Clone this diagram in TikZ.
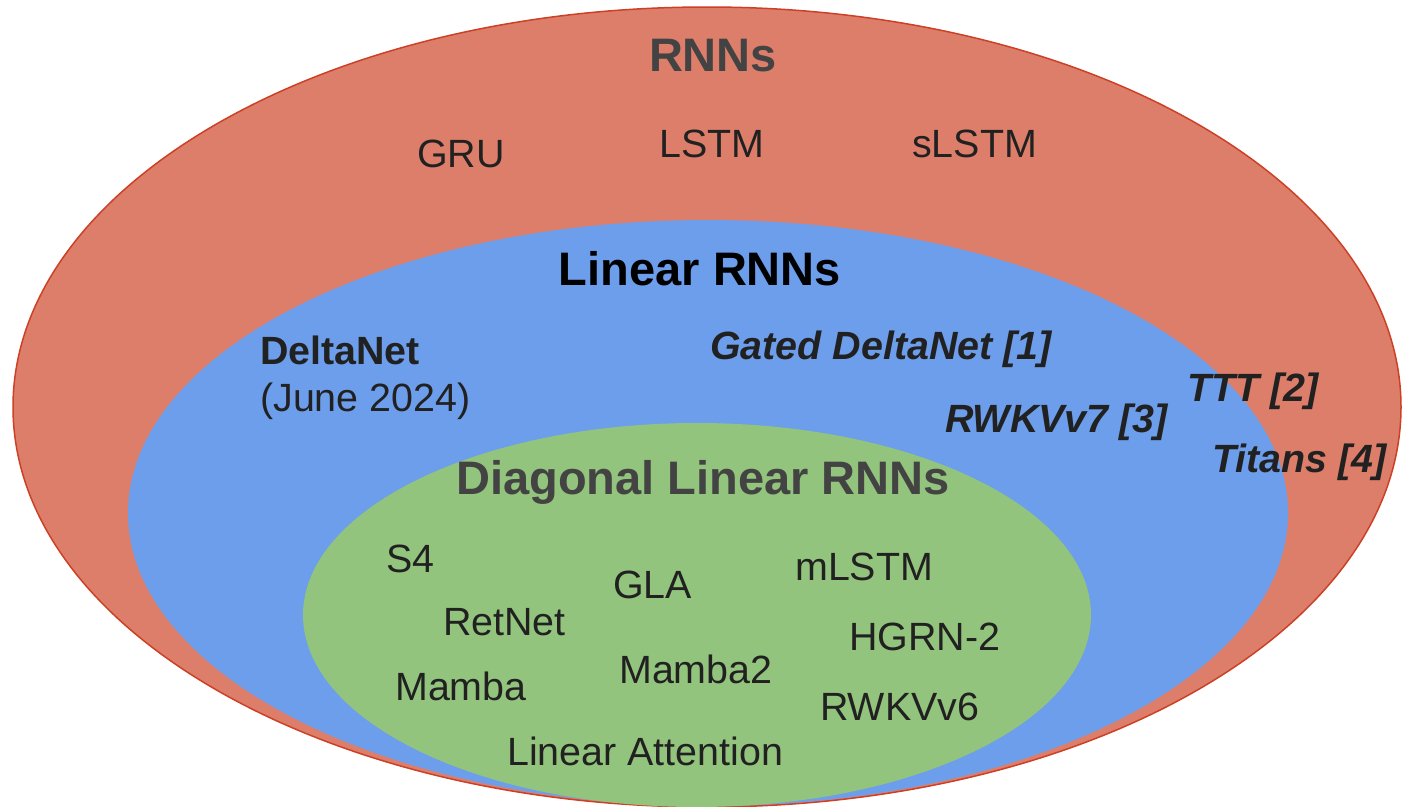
\documentclass[tikz,border=0pt]{standalone}
\usepackage{fontspec}
\setmainfont{Liberation Sans}
\definecolor{rnnred}{HTML}{DD7E6B}
\definecolor{rnnborder}{HTML}{CC4125}
\definecolor{linblue}{HTML}{6D9EEB}
\definecolor{diaggreen}{HTML}{93C47D}
\definecolor{headgrey}{HTML}{434343}
\definecolor{txt}{HTML}{212121}
\tikzset{
  lbl/.style={inner sep=0pt, anchor=base west, text=txt, font=\fontsize{39.4}{47}\selectfont},
  blbl/.style={lbl, font=\fontsize{39.4}{47}\selectfont\bfseries},
  bilbl/.style={lbl, font=\fontsize{39.4}{47}\selectfont\bfseries\itshape},
  head/.style={inner sep=0pt, anchor=base, font=\fontsize{47}{56}\selectfont\bfseries},
}
\begin{document}
\begin{tikzpicture}[x=1pt,y=-1pt]
\useasboundingbox (0,0) rectangle (1403,806);
\clip (0,0) rectangle (1403,806);
% sets
\filldraw[fill=rnnred, draw=rnnborder, line width=1.5pt] (707,407) ellipse [x radius=694pt, y radius=400pt];
\fill[linblue] (708,513) ellipse [x radius=580pt, y radius=293pt];
\fill[diaggreen] (697,615) ellipse [x radius=394pt, y radius=192pt];
% headers
\node[head, text=headgrey] (hrnn) at (713,71) {RNNs};
\node[head, text=black] (hlin) at (700,285) {Linear RNNs};
\node[head, text=headgrey] (hdiag) at (703,494) {Diagonal Linear RNNs};
% RNNs
\node[lbl] (gru) at (417,167) {GRU};
\node[lbl] (lstm) at (659,157) {LSTM};
\node[lbl] (slstm) at (912,157) {sLSTM};
% Linear RNNs
\node[blbl] (delta) at (260,364) {DeltaNet};
\node[lbl] (june) at (260,411) {(June 2024)};
\node[bilbl] (gdelta) at (710,359) {Gated DeltaNet [1]};
\node[bilbl] (ttt) at (1187,401) {TTT [2]};
\node[bilbl] (rwkv7) at (945,432) {RWKVv7 [3]};
\node[bilbl] (titans) at (1212,472) {Titans [4]};
% Diagonal
\node[lbl] (s4) at (386,572) {S4};
\node[lbl] (gla) at (613,598) {GLA};
\node[lbl] (mlstm) at (795,580) {mLSTM};
\node[lbl] (retnet) at (443,635) {RetNet};
\node[lbl] (hgrn) at (849,650) {HGRN-2};
\node[lbl] (mamba) at (395,700) {Mamba};
\node[lbl] (mamba2) at (619,683) {Mamba2};
\node[lbl] (rwkv6) at (820,720) {RWKVv6};
\node[lbl] (linatt) at (507,765) {Linear Attention};
\end{tikzpicture}
\end{document}
